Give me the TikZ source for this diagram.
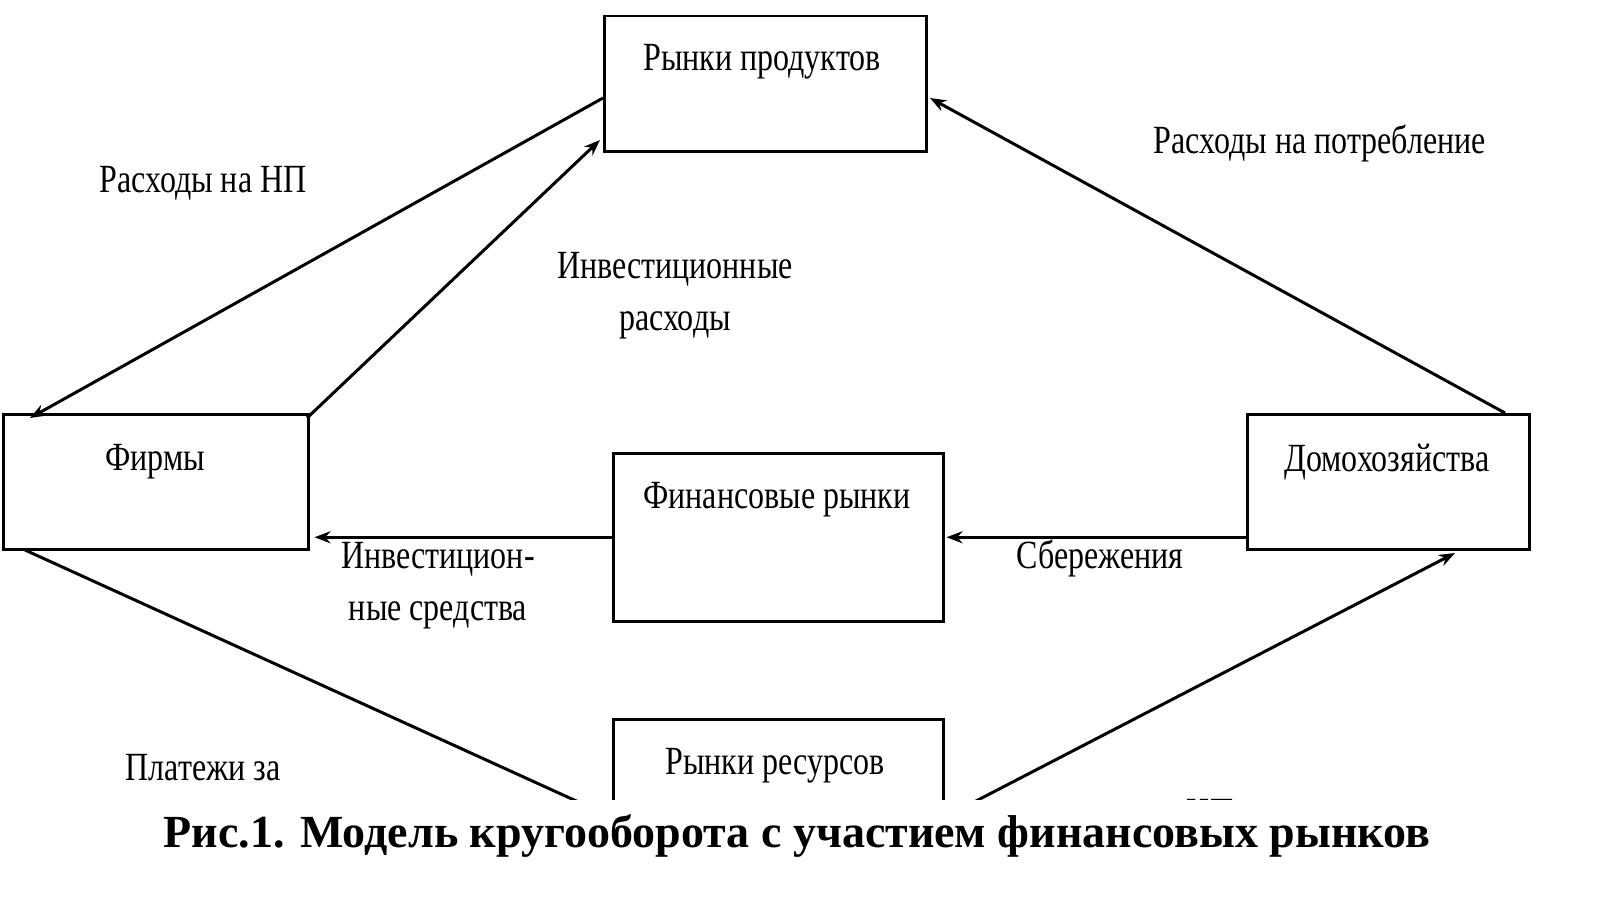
\documentclass[tikz,border=0pt]{standalone}
\usepackage{fontspec}
\setmainfont{Liberation Serif}
\usetikzlibrary{arrows.meta}
\begin{document}
\begin{tikzpicture}[x=1pt,y=-1pt,
  box/.style={draw,line width=2.5pt},
  arr/.style={line width=3pt,-{Stealth[length=16pt,width=12pt]}},
  lbl/.style={font=\fontsize{40}{52}\selectfont,align=center,xscale=0.8}]
\useasboundingbox (0,0) rectangle (1600,899);
\node[box,minimum width=322,minimum height=135,anchor=north west,inner sep=0] (rp) at (603,15) {};
\node[lbl] at (762,62) {Рынки продуктов};
\node[box,minimum width=305,minimum height=135,anchor=north west,inner sep=0] (f) at (2,413) {};
\node[lbl] at (155,462) {Фирмы};
\node[box,minimum width=330,minimum height=168,anchor=north west,inner sep=0] (fr) at (612,452) {};
\node[lbl] at (777,500) {Финансовые рынки};
\node[box,minimum width=282,minimum height=135,anchor=north west,inner sep=0] (d) at (1246,413) {};
\node[lbl] at (1387,462) {Домохозяйства};
\node[box,minimum width=330,minimum height=160,anchor=north west,inner sep=0] (rr) at (612,718) {};
\node[lbl] at (775,766) {Рынки ресурсов};
\coordinate (a1) at (603,98); \coordinate (a2) at (30,418);
\coordinate (b1) at (307,418); \coordinate (b2) at (600,140);
\coordinate (c1) at (1505,413); \coordinate (c2) at (930,98);
\coordinate (e1) at (25,550); \coordinate (e2) at (640,830);
\coordinate (g1) at (920,830); \coordinate (g2) at (1455,553);
\draw[arr] (a1) -- (a2);
\draw[arr] (b1) -- (b2);
\draw[arr] (c1) -- (c2);
\draw[arr] (fr.west) -- ([xshift=5pt]f.east|-fr.west);
\draw[arr] (d.west|-fr.west) -- ([xshift=2pt]fr.east|-fr.west);
\draw[line width=3pt] (e1) -- (e2);
\draw[arr] (g1) -- (g2);
\node[lbl] at (203,183) {Расходы на НП};
\node[lbl] at (1320,143) {Расходы на потребление};
\node[lbl] at (675,296) {Инвестиционные\\расходы};
\node[lbl] at (438,586) {Инвестицион-\\ные средства};
\node[lbl] at (1100,558) {Сбережения};
\node[lbl] at (203,768) {Платежи за};
\node[lbl] at (1210,812) {НП};
\fill[white] (0,800) rectangle (1600,899);
\node[font=\fontsize{46}{52}\selectfont\bfseries] at (797,836) {Рис.1. Модель кругооборота с участием финансовых рынков};
\end{tikzpicture}
\end{document}
